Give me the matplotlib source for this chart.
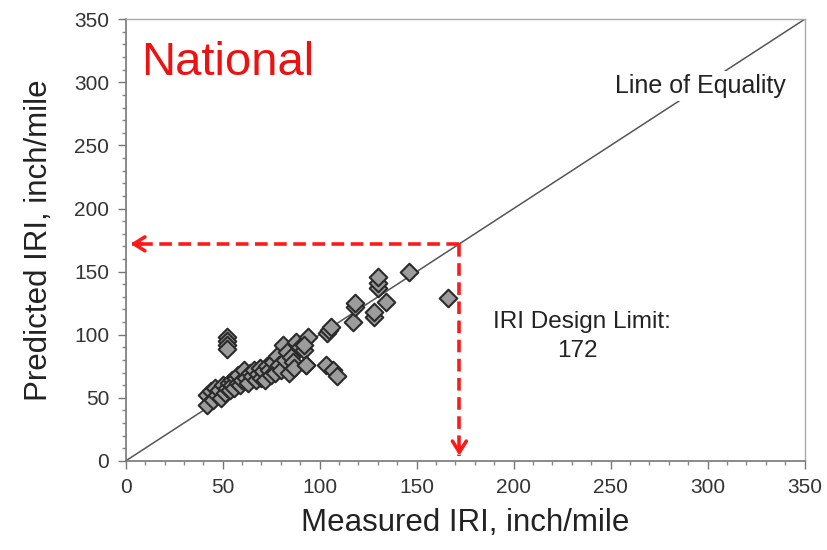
import matplotlib
matplotlib.use("Agg")
import matplotlib.pyplot as plt
from matplotlib.ticker import MultipleLocator

plt.rcParams['font.family'] = ['Liberation Sans', 'DejaVu Sans']

# measured vs predicted IRI (inch/mile) for the national sections
measured = [42, 42, 44, 45, 46, 47, 48, 49, 50, 51, 52, 53, 54, 55, 55, 56,
            57, 58, 58, 59, 60, 61, 62, 63, 64, 65, 66, 67, 68, 69, 70, 71,
            72, 73, 74, 75, 76, 77, 78, 79, 80, 81, 82, 83, 84, 85, 86, 87,
            88, 90, 92, 94, 93, 92,
            52, 52, 52, 52,
            104, 105, 106, 117, 118, 118, 128, 128, 130, 130, 130, 134, 146,
            166, 93, 103, 107, 109]
predicted = [52, 44, 55, 48, 58, 52, 56, 50, 60, 54, 58, 62, 56, 64, 60, 58,
             66, 62, 68, 60, 64, 72, 66, 62, 70, 67, 72, 64, 69, 74, 66, 71,
             64, 75, 72, 68, 78, 70, 83, 76, 72, 92, 80, 86, 70, 82, 78, 74,
             94, 90, 88, 98, 76, 92,
             98, 95, 92, 89,
             101, 104, 106, 110, 122, 125, 114, 118, 137, 141, 146, 126, 150,
             129, 76, 76, 72, 67]

design_limit = 172
axis_max = 350

fig, ax = plt.subplots(figsize=(8.27, 5.5), dpi=100)
fig.subplots_adjust(left=0.152, right=0.973, bottom=0.162, top=0.965)

# line of equality
ax.plot([0, axis_max], [0, axis_max], color='#555555', lw=1.1, zorder=1)
ax.text(296, 297, 'Line of Equality', fontsize=18, color='#222222',
        ha='center', va='center', zorder=2,
        bbox=dict(facecolor='white', edgecolor='none', pad=2))

ax.scatter(measured, predicted, marker='D', s=80, facecolor='#9c9c9c',
           edgecolor='#2a2a2a', linewidth=1.5, zorder=3)

# design limit arrows
red = '#ff1a1a'
ax.plot([design_limit, 3], [design_limit, design_limit], color=red, lw=2.6,
        dashes=(3.5, 1.8), zorder=4)
ax.plot([design_limit, design_limit], [design_limit, 4], color=red, lw=2.6,
        dashes=(3.5, 1.8), zorder=4)
ax.annotate('', xy=(1, design_limit), xytext=(10, design_limit),
            arrowprops=dict(arrowstyle='->,head_length=0.8,head_width=0.5',
                            color=red, lw=2.6), zorder=5)
ax.annotate('', xy=(design_limit, 2), xytext=(design_limit, 14),
            arrowprops=dict(arrowstyle='->,head_length=0.8,head_width=0.5',
                            color=red, lw=2.6), zorder=5)

ax.text(235, 110, 'IRI Design Limit:', fontsize=17.5, color='#222222',
        ha='center', va='center')
ax.text(233, 87, str(design_limit), fontsize=17.5, color='#222222',
        ha='center', va='center')

ax.text(8, 306, 'National', fontsize=34, color='#ee1111', ha='left',
        va='baseline')

ax.set_xlim(0, axis_max)
ax.set_ylim(0, axis_max)
ax.xaxis.set_major_locator(MultipleLocator(50))
ax.yaxis.set_major_locator(MultipleLocator(50))
ax.xaxis.set_minor_locator(MultipleLocator(10))
ax.yaxis.set_minor_locator(MultipleLocator(10))
ax.tick_params(which='major', direction='out', length=6, width=1,
               color='#777777', labelsize=15, labelcolor='#333333', pad=6)
ax.tick_params(which='minor', direction='out', length=3, width=1,
               color='#888888')

for side in ['left', 'bottom']:
    ax.spines[side].set_color('#777777')
    ax.spines[side].set_linewidth(1.2)
for side in ['top', 'right']:
    ax.spines[side].set_color('#aaaaaa')
    ax.spines[side].set_linewidth(1.0)

ax.set_xlabel('Measured IRI, inch/mile', fontsize=22.5, color='#222222',
              labelpad=8)
ax.set_ylabel('Predicted IRI, inch/mile', fontsize=22.5, color='#222222',
              labelpad=14)

plt.savefig('out.png', dpi=100)
